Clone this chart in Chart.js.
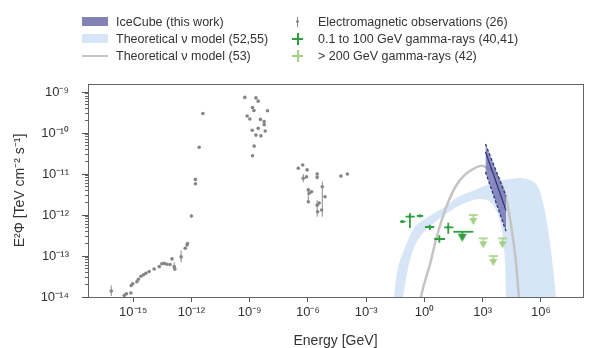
<!DOCTYPE html>
<html>
<head>
<meta charset="utf-8">
<script src="https://cdn.jsdelivr.net/npm/chart.js@4.4.0/dist/chart.umd.min.js"></script>
<style>
  body { margin: 0; background: #fff; font-family: "Liberation Sans", Arial, sans-serif; }
  #wrap { position: relative; width: 590px; height: 348px; }
  #legend { position: absolute; left: 0; top: 0; width: 590px; height: 70px; font-size: 12.5px; color: #333; }
  .txt { position: absolute; height: 16px; line-height: 16px; white-space: nowrap; }
  .mk { position: absolute; }
</style>
</head>
<body>
<div id="wrap">
  <canvas id="myChart" width="590" height="348"></canvas>
  <div id="legend">
    <div class="mk" style="left:82px;top:17px;width:26px;height:9px;background:#8282b4"></div>
    <div class="txt" style="left:116px;top:14px">IceCube (this work)</div>
    <div class="mk" style="left:82px;top:34px;width:26px;height:9px;background:#d7e6f6"></div>
    <div class="txt" style="left:116px;top:31px">Theoretical ν model (52,55)</div>
    <div class="mk" style="left:82px;top:55px;width:26px;height:2px;background:#c4c4c4"></div>
    <div class="txt" style="left:116px;top:48px">Theoretical ν model (53)</div>

    <div class="mk" style="left:297px;top:17px;width:1px;height:10px;background:#888"></div>
    <div class="mk" style="left:296px;top:20px;width:3px;height:3px;border-radius:2px;background:#888"></div>
    <div class="txt" style="left:318px;top:14px">Electromagnetic observations (26)</div>
    <div class="mk" style="left:292px;top:38px;width:11px;height:2px;background:#2e9e3e"></div>
    <div class="mk" style="left:296.5px;top:33px;width:2px;height:12px;background:#2e9e3e"></div>
    <div class="txt" style="left:318px;top:31px">0.1 to 100 GeV gamma-rays (40,41)</div>
    <div class="mk" style="left:292px;top:55px;width:11px;height:2px;background:#a3d184"></div>
    <div class="mk" style="left:296.5px;top:50px;width:2px;height:12px;background:#a3d184"></div>
    <div class="txt" style="left:318px;top:48px">&gt; 200 GeV gamma-rays (42)</div>
  </div>
</div>
<script>
// Electromagnetic observations (GeV, TeV cm^-2 s^-1)
const emEnergy = [
  7.4e-17, 3.5e-16, 4.5e-16, 7.6e-16, 7.9e-16, 9.5e-16, 1.55e-15, 1.85e-15, 2.5e-15, 3.4e-15,
  4.5e-15, 6.6e-15, 1.2e-14, 2.2e-14, 3.0e-14, 4.0e-14, 5.5e-14, 7.9e-14, 1.0e-13, 1.3e-13,
  1.4e-13, 2.95e-13, 4.8e-13, 5.9e-13, 6.3e-13, 1.0e-12, 1.6e-12, 1.6e-12, 2.5e-12, 3.9e-12,
  5.6e-10, 2.1e-9, 2.75e-9, 1.4e-9, 1.66e-9, 8.3e-9, 7.4e-10, 1.02e-9, 3.6e-9, 5.6e-9,
  5.6e-9, 1.35e-9, 2.75e-9, 6.3e-9, 2.1e-9, 3.8e-9, 1.7e-9, 1.4e-9,
  3.2e-7, 5.4e-7, 5.75e-7, 8.5e-7, 9.1e-7, 1.05e-6, 1.17e-6, 1.55e-6, 1.05e-6, 3.0e-6,
  3.0e-6, 5.5e-6, 7.6e-6, 3.0e-6, 3.8e-6, 5.1e-6, 3.16e-6, 5.0e-5, 1.07e-4
];
const emFlux = [
  1.4e-14, 1.1e-14, 1.2e-14, 1.25e-14, 1.9e-14, 2.1e-14, 2.35e-14, 2.7e-14, 3.2e-14, 3.5e-14,
  3.8e-14, 4.2e-14, 4.8e-14, 5.5e-14, 6.5e-14, 6.6e-14, 6.3e-14, 6.2e-14, 8.5e-14, 5.5e-14,
  4.8e-14, 9.5e-14, 1.55e-13, 1.85e-13, 2.0e-13, 9.5e-13, 7.4e-12, 5.8e-12, 4.5e-11, 3.0e-10,
  7.4e-10, 7.2e-10, 6.0e-10, 4.2e-10, 3.55e-10, 3.5e-10, 2.6e-10, 2.2e-10, 2.15e-10, 1.9e-10,
  1.6e-10, 1.17e-10, 1.3e-10, 1.12e-10, 8.9e-11, 8.5e-11, 4.8e-11, 2.8e-11,
  1.38e-11, 1.66e-11, 7.9e-12, 8.5e-12, 1.26e-11, 4.1e-12, 3.4e-12, 3.7e-12, 2.1e-12, 1.0e-11,
  8.3e-12, 4.9e-12, 2.8e-12, 1.74e-12, 1.95e-12, 1.32e-12, 1.2e-12, 8.9e-12, 1.0e-11
];
const emErrEnergy = [7.4e-17, 1.3e-13, 2.95e-13, 5.75e-7, 1.05e-6, 3.0e-6, 3.0e-6, 5.5e-6];
const emErrLow    = [1.05e-14, 4.3e-14, 7.0e-14, 6.3e-12, 1.95e-12, 7.5e-12, 9.1e-13, 9.1e-13];
const emErrHigh   = [1.9e-14, 7.0e-14, 1.35e-13, 1.0e-11, 4.6e-12, 1.1e-11, 2.3e-12, 6.5e-12];

// 0.1 to 100 GeV gamma-rays
const lowGammaEnergy = [0.072, 0.18, 0.59, 1.9, 5.9, 17];
const lowGammaFlux   = [6.9e-13, 9.1e-13, 9.5e-13, 5.1e-13, 2.6e-13, 5.0e-13];
const lowGammaELow   = [0.055, 0.107, 0.40, 1.07, 3.2, 10.5];
const lowGammaEHigh  = [0.107, 0.32, 0.87, 3.2, 11.5, 31];
const lowGammaFLow   = [null, 4.8e-13, null, 4.3e-13, 2.1e-13, 3.5e-13];
const lowGammaFHigh  = [null, 1.1e-12, null, 5.75e-13, 3.2e-13, 6.5e-13];
const lowLimitEnergy = [89];
const lowLimitFlux   = [3.9e-13];
const lowLimitELow   = [31];
const lowLimitEHigh  = [330];

// > 200 GeV gamma-ray upper limits
const highLimitEnergy = [331, 1070, 3550, 10700];
const highLimitFlux   = [1.0e-12, 2.7e-13, 1.0e-13, 2.7e-13];

// Theoretical nu model (52,55): band
const bandOuterEnergy = [0.027, 0.044, 0.1, 0.32, 1.5, 11.5, 54, 400, 2400, 11200, 59000, 1.9e5, 6.3e5, 1.3e6, 2.35e6, 4.2e6, 6.0e6];
const bandOuterFlux   = [1e-14, 5.4e-14, 1.6e-13, 5.1e-13, 8.9e-13, 1.6e-12, 2.75e-12, 4.1e-12, 5.75e-12, 7.1e-12, 7.9e-12, 7.6e-12, 5.4e-12, 1.95e-12, 4.3e-13, 5.4e-14, 1e-14];
const bandInnerEnergy = [0.078, 0.18, 0.46, 2.45, 26, 174, 720, 2400, 5500, 9800, 14000, 15800];
const bandInnerFlux   = [1e-14, 7.9e-14, 2.45e-13, 5.75e-13, 1.32e-12, 2.1e-12, 2.45e-12, 2.1e-12, 1.17e-12, 4.3e-13, 7.9e-14, 1e-14];

// Theoretical nu model (53): curve
const modelEnergy = [0.66, 1.05, 1.9, 3.9, 7.9, 16, 42, 120, 316, 810, 1860, 4300, 8700, 15800, 25000, 36000, 51000, 74000];
const modelFlux   = [1e-14, 2.35e-14, 6.0e-14, 2.45e-13, 7.6e-13, 1.95e-12, 5.1e-12, 9.5e-12, 1.32e-11, 1.58e-11, 1.4e-11, 1.05e-11, 6.0e-12, 2.75e-12, 8.9e-13, 2.9e-13, 7.9e-14, 1e-14];

// IceCube (this work)
const iceEnergy = [1400, 16000];
const iceUpper  = [5.4e-11, 2.9e-12];
const iceLower  = [1.12e-11, 4.0e-13];
const iceBest   = [3.5e-11, 1.3e-12];

// axes
const xTickValues = [1e-15, 1e-12, 1e-9, 1e-6, 1e-3, 1, 1e3, 1e6];
const xTickLabels = ['10⁻¹⁵', '10⁻¹²', '10⁻⁹', '10⁻⁶', '10⁻³', '10⁰', '10³', '10⁶'];
const yTickValues = [1e-14, 1e-13, 1e-12, 1e-11, 1e-10, 1e-9];
const yTickLabels = ['10⁻¹⁴', '10⁻¹³', '10⁻¹²', '10⁻¹¹', '10⁻¹⁰', '10⁻⁹'];
const xMin = 4.7e-18, xMax = 1.48e8, yMin = 1e-14, yMax = 1.57e-9;

const pts = (xs, ys) => xs.map((v, i) => ({ x: v, y: ys[i] }));

// upper limit glyph: cap at the centre of the image, arrow going down
function limitGlyph(color, capW, triW, triTop, triH, withCap) {
  const h = 2 * (triTop + triH) + 2;
  const w = Math.max(capW, triW) + 2;
  const c = document.createElement('canvas');
  c.width = w; c.height = h;
  const g = c.getContext('2d');
  const cx = w / 2, cy = h / 2;
  g.strokeStyle = color; g.fillStyle = color; g.lineWidth = 1.6;
  if (withCap) {
    g.beginPath(); g.moveTo(cx - capW / 2, cy); g.lineTo(cx + capW / 2, cy); g.stroke();
  }
  g.beginPath(); g.moveTo(cx, cy); g.lineTo(cx, cy + triTop + 1); g.stroke();
  g.beginPath();
  g.moveTo(cx - triW / 2, cy + triTop);
  g.lineTo(cx + triW / 2, cy + triTop);
  g.lineTo(cx, cy + triTop + triH);
  g.closePath(); g.fill();
  return c;
}

const darkGreen = '#2e9e3e';
const lightGreen = '#a3d184';

const errorBars = {
  id: 'errorBars',
  afterDatasetsDraw(chart) {
    const ctx = chart.ctx;
    const xs = chart.scales.x, ys = chart.scales.y;
    chart.data.datasets.forEach(ds => {
      const e = ds.errorBars;
      if (!e) return;
      ctx.save();
      ctx.strokeStyle = e.color;
      ctx.lineWidth = e.width;
      ds.data.forEach((p, j) => {
        const px = xs.getPixelForValue(p.x), py = ys.getPixelForValue(p.y);
        ctx.beginPath();
        if (e.xLow && e.xLow[j] != null) {
          ctx.moveTo(xs.getPixelForValue(e.xLow[j]), py);
          ctx.lineTo(xs.getPixelForValue(e.xHigh[j]), py);
        }
        if (e.yLow && e.yLow[j] != null) {
          ctx.moveTo(px, ys.getPixelForValue(e.yLow[j]));
          ctx.lineTo(px, ys.getPixelForValue(e.yHigh[j]));
        }
        ctx.stroke();
      });
      ctx.restore();
    });
  }
};

const frame = {
  id: 'frame',
  afterDraw(chart) {
    const { ctx, chartArea: a } = chart;
    ctx.save();
    ctx.strokeStyle = '#666';
    ctx.lineWidth = 1;
    ctx.strokeRect(Math.round(a.left) + 0.5, Math.round(a.top) + 0.5, Math.round(a.right - a.left), Math.round(a.bottom - a.top));
    ctx.restore();
  }
};

const ctx = document.getElementById('myChart').getContext('2d');

new Chart(ctx, {
  type: 'scatter',
  data: {
    datasets: [
      {
        label: 'IceCube upper', data: pts(iceEnergy, iceUpper), showLine: true,
        borderColor: '#2f3679', borderWidth: 1.3, borderDash: [3, 2], pointRadius: 0, order: 1
      },
      {
        label: 'IceCube lower', data: pts(iceEnergy, iceLower), showLine: true, fill: '-1',
        backgroundColor: 'rgba(112,112,178,0.8)',
        borderColor: '#2f3679', borderWidth: 1.3, borderDash: [3, 2], pointRadius: 0, order: 1
      },
      {
        label: 'IceCube best', data: pts(iceEnergy, iceBest), showLine: true,
        borderColor: '#2f3679', borderWidth: 1.3, pointRadius: 0, order: 0
      },
      {
        label: '> 200 GeV gamma-rays', data: pts(highLimitEnergy, highLimitFlux),
        pointStyle: limitGlyph(lightGreen, 9, 8, 3, 7, true), pointRadius: 4, order: 2
      },
      {
        label: 'limit', data: pts(lowLimitEnergy, lowLimitFlux),
        pointStyle: limitGlyph(darkGreen, 0, 9, 2, 8, false), pointRadius: 4, order: 2,
        errorBars: { color: darkGreen, width: 1.8, xLow: lowLimitELow, xHigh: lowLimitEHigh }
      },
      {
        label: '0.1 to 100 GeV gamma-rays', data: pts(lowGammaEnergy, lowGammaFlux),
        pointRadius: 1.6, pointBackgroundColor: darkGreen, pointBorderWidth: 0, order: 2,
        errorBars: { color: darkGreen, width: 1.8, xLow: lowGammaELow, xHigh: lowGammaEHigh, yLow: lowGammaFLow, yHigh: lowGammaFHigh }
      },
      {
        label: 'em bars', data: pts(emErrEnergy, emErrLow), pointRadius: 0, order: 3,
        errorBars: { color: '#8a8a8a', width: 1, yLow: emErrLow, yHigh: emErrHigh }
      },
      {
        label: 'Electromagnetic observations', data: pts(emEnergy, emFlux),
        pointRadius: 1.8, pointBackgroundColor: '#858585', pointBorderWidth: 0, order: 3
      },
      {
        label: 'Theoretical model (53)', data: pts(modelEnergy, modelFlux), showLine: true,
        borderColor: '#c4c4c4', borderWidth: 2.5, pointRadius: 0, tension: 0.35, order: 6
      },
      {
        label: 'band inner', data: pts(bandInnerEnergy, bandInnerFlux), showLine: true, fill: 'start',
        backgroundColor: '#ffffff', borderWidth: 0, pointRadius: 0, tension: 0.35, order: 8
      },
      {
        label: 'Theoretical model (52,55)', data: pts(bandOuterEnergy, bandOuterFlux), showLine: true, fill: 'start',
        backgroundColor: '#d7e6f6', borderWidth: 0, pointRadius: 0, tension: 0.35, order: 9
      }
    ]
  },
  options: {
    responsive: false,
    animation: false,
    events: [],
    layout: { padding: { left: 0, right: 7, top: 84, bottom: 0 } },
    plugins: { legend: { display: false }, tooltip: { enabled: false } },
    scales: {
      x: {
        type: 'logarithmic', min: xMin, max: xMax,
        afterBuildTicks: s => { s.ticks = xTickValues.map(v => ({ value: v })); },
        afterFit: s => { s.height = 51; },
        grid: { drawOnChartArea: false, tickLength: 5, tickColor: '#555' },
        border: { display: false },
        ticks: {
          autoSkip: false, maxRotation: 0, padding: 3, color: '#333',
          font: { family: '"Liberation Sans", Arial, sans-serif', size: 13 },
          callback: (v, i) => xTickLabels[i]
        },
        title: {
          display: true, text: 'Energy [GeV]', color: '#333',
          font: { family: '"Liberation Sans", Arial, sans-serif', size: 14, lineHeight: 1 },
          padding: { top: 0, bottom: 0 }
        }
      },
      y: {
        type: 'logarithmic', min: yMin, max: yMax, weight: 1,
        afterBuildTicks: s => { s.ticks = yTickValues.map(v => ({ value: v })); },
        afterFit: s => { s.width = 88; },
        grid: { drawOnChartArea: false, tickLength: 6, tickColor: '#555' },
        border: { display: false },
        ticks: {
          autoSkip: false, padding: 13, color: '#333',
          font: { family: '"Liberation Sans", Arial, sans-serif', size: 13 },
          callback: (v, i) => yTickLabels[i]
        },
        title: {
          display: true, text: 'E²Φ [TeV cm⁻² s⁻¹]', color: '#333',
          font: { family: '"Liberation Sans", Arial, sans-serif', size: 14 },
          padding: { top: 12, bottom: 0 }
        }
      },
      yMinor: {
        type: 'logarithmic', position: 'left', min: yMin, max: yMax, weight: 0,
        afterBuildTicks: s => {
          const t = [];
          for (let e = -14; e <= -10; e++) {
            for (let m = 2; m <= 9; m++) t.push({ value: m * Math.pow(10, e) });
          }
          s.ticks = t;
        },
        afterFit: s => { s.width = 0; },
        grid: { drawOnChartArea: false, tickLength: 3, tickColor: '#666' },
        border: { display: false },
        ticks: { autoSkip: false, display: false }
      }
    }
  },
  plugins: [errorBars, frame]
});
</script>
</body>
</html>
